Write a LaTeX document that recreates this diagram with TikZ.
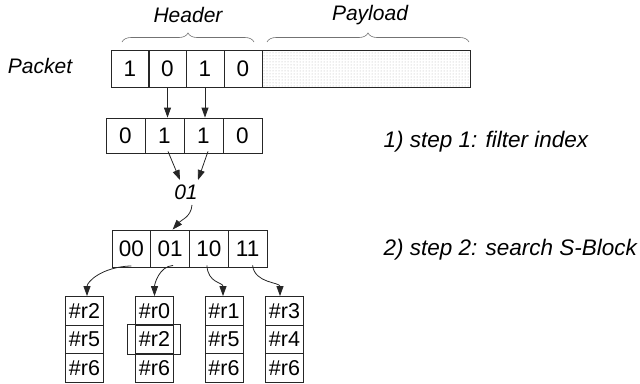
\documentclass[tikz,border=0pt]{standalone}
\usepackage{fontspec}
\setmainfont{Liberation Sans}
\usetikzlibrary{arrows.meta,decorations.pathreplacing,patterns}
\begin{document}
\begin{tikzpicture}[x=1pt,y=-1pt,
  txt/.style={font=\fontsize{22.5}{26}\selectfont},
  itxt/.style={font=\fontsize{21}{24}\selectfont\itshape},
  ltxt/.style={font=\fontsize{22.5}{26}\selectfont\itshape},
  cell/.style={draw=black!85,line width=0.8pt,inner sep=0pt,
    minimum width=#1,txt},
  cell/.default=38pt,
  pcell/.style={cell,minimum height=37pt},
  rcell/.style={cell=39pt,minimum height=35pt},
  scell/.style={cell=38.75pt,minimum height=37pt},
  bcell/.style={cell=38pt,minimum height=28.5pt,font=\fontsize{21.5}{25}\selectfont},
  arr/.style={draw=black!85,line width=0.8pt,-{Triangle[length=10pt,width=7pt]}},
  hbrace/.style={draw=black!55,line width=0.6pt,decorate,decoration={brace,amplitude=9pt}}
]
\useasboundingbox (0,0) rectangle (640,383);

% packet: header bits and payload
\node[pcell] (p1) at (130,68.5) {1};
\node[pcell] (p2) at (167.5,68.5) {0};
\node[pcell] (p3) at (205,68.5) {1};
\node[pcell] (p4) at (243,68.5) {0};
\node[draw=black!85,line width=0.8pt,pattern=dots,pattern color=black!30,
  minimum width=208pt,minimum height=37pt,inner sep=0pt] (pay) at (366,68.5) {};
\node[itxt] (plabel) at (40,65.5) {Packet};

% braces over header and payload
\draw[hbrace] (122,42) -- (254,42);
\draw[hbrace] (267,42) -- (469,42);
\node[itxt] (hdr) at (188,15) {Header};
\node[itxt] (pld) at (370,15) {Payload};

% filter index row
\node[rcell] (r1) at (125.5,135.5) {0};
\node[rcell] (r2) at (164.5,135.5) {1};
\node[rcell] (r3) at (203.5,135.5) {1};
\node[rcell] (r4) at (242.5,135.5) {0};

\draw[arr] (p2.south) -- (p2.south |- r2.north);
\draw[arr] (p3.south) -- (p3.south |- r3.north);

% extracted key
\node[itxt] (key) at (186,192) {01};
\draw[arr] ([xshift=3.5pt,yshift=2pt]r2.south) -- ([xshift=-6pt,yshift=1pt]key.north);
\draw[arr] ([xshift=4.5pt,yshift=2pt]r3.south) -- ([xshift=12pt,yshift=1pt]key.north);

% S-Block
\node[scell] (s1) at (131.4,248.5) {00};
\node[scell] (s2) at (170.1,248.5) {01};
\node[scell] (s3) at (208.9,248.5) {10};
\node[scell] (s4) at (247.6,248.5) {11};

\draw[arr] ([xshift=6pt,yshift=-2pt]key.south) .. controls +(-1,12) and +(9,-10) .. ([xshift=2.5pt]s2.north);

% step labels
\node[ltxt,anchor=west] (st1) at (380,142) {1) step 1: filter index};
\node[ltxt,anchor=west] (st2) at (380,250) {2) step 2: search S-Block};

% rule buckets
\foreach \c/\x/\a/\b/\d in {1/84.5/\#r2/\#r5/\#r6, 2/154.5/\#r0/\#r2/\#r6,
                            3/224/\#r1/\#r5/\#r6, 4/284.5/\#r3/\#r4/\#r6}{
  \node[bcell] (b\c1) at (\x,310.75) {\a};
  \node[bcell] (b\c2) at (\x,339.25) {\b};
  \node[bcell] (b\c3) at (\x,367.75) {\d};
}
\draw[draw=black!85,line width=0.8pt] ([xshift=-8pt]b22.south west) rectangle ([xshift=6pt]b22.north east);

\draw[arr] ([yshift=1.5pt]s1.south) .. controls +(-30,1) and +(0,-14) .. ([xshift=2.5pt]b11.north);
\draw[arr] ([xshift=3pt,yshift=2pt]s2.south) .. controls +(-14,1) and +(0,-12) .. (b21.north);
\draw[arr] ([xshift=-2pt,yshift=2pt]s3.south) .. controls +(1,18) and +(0,-14) .. ([xshift=-1pt]b31.north);
\draw[arr] ([xshift=5pt,yshift=2pt]s4.south) .. controls +(2,18) and +(0,-14) .. ([xshift=-4.5pt]b41.north);
\end{tikzpicture}
\end{document}
